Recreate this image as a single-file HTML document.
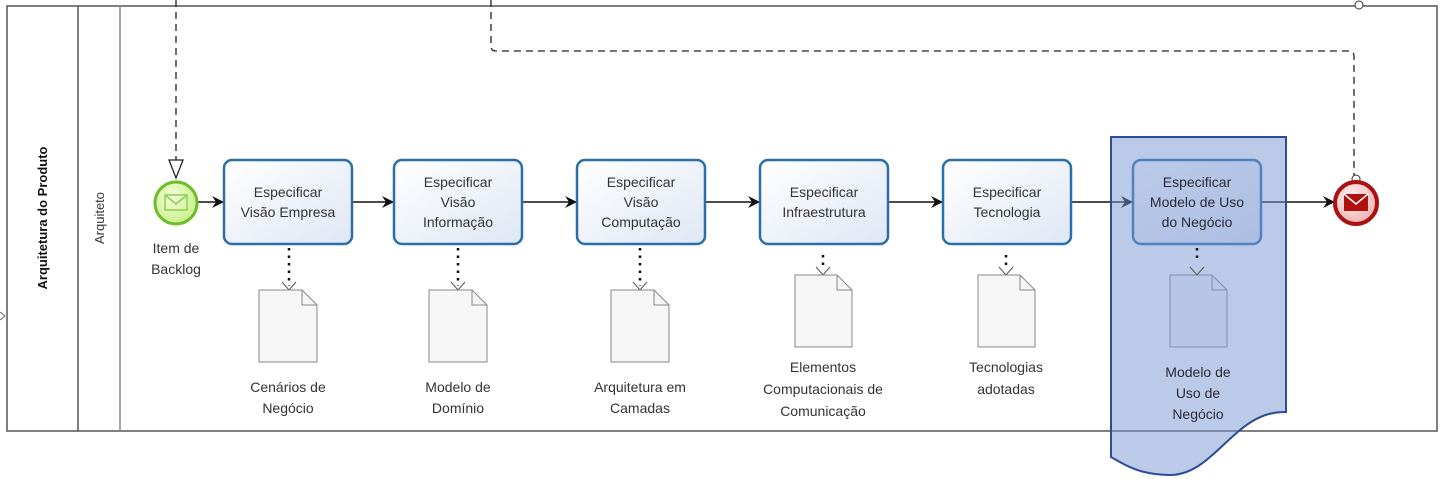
<!DOCTYPE html>
<html><head><meta charset="utf-8"><style>
html,body{margin:0;padding:0;background:#fff;}
svg{display:block;font-family:"Liberation Sans",sans-serif;}
</style></head><body>
<svg width="1446" height="488" viewBox="0 0 1446 488" xmlns="http://www.w3.org/2000/svg">
<defs>
<linearGradient id="tg" x1="0" y1="0" x2="1" y2="1"><stop offset="0" stop-color="#ffffff"/><stop offset="1" stop-color="#dfe6f4"/></linearGradient>
<radialGradient id="gg" cx="0.4" cy="0.35" r="0.7"><stop offset="0" stop-color="#f4ffd8"/><stop offset="1" stop-color="#c7ee88"/></radialGradient>
<radialGradient id="rg" cx="0.4" cy="0.35" r="0.7"><stop offset="0" stop-color="#fff0f0"/><stop offset="1" stop-color="#f0b0b0"/></radialGradient>
<marker id="ar" markerWidth="12" markerHeight="12" refX="11" refY="6" orient="auto" markerUnits="userSpaceOnUse"><path d="M0,0 L12,6 L0,12 L4,6 Z" fill="#111"/></marker>
</defs>
<rect x="7" y="6" width="1430" height="425" fill="#fff" stroke="#555" stroke-width="1.5"/>
<line x1="78" y1="6" x2="78" y2="431" stroke="#555" stroke-width="1.5"/>
<line x1="120" y1="6" x2="120" y2="431" stroke="#888" stroke-width="1.5"/>
<text transform="translate(47,218) rotate(-90)" text-anchor="middle" font-size="13" font-weight="bold" fill="#111">Arquitetura do Produto</text>
<text transform="translate(104,218) rotate(-90)" text-anchor="middle" font-size="13" fill="#333">Arquiteto</text>
<path d="M0,312 L5,316 L0,320" fill="none" stroke="#666"/>
<line x1="176" y1="0" x2="176" y2="160" stroke="#222" stroke-width="1.3" stroke-dasharray="7,5"/>
<path d="M169,160 L183,160 L176,178 Z" fill="#fff" stroke="#222" stroke-width="1.3"/>
<path d="M491,0 V46 Q491,51 496,51 H1349 Q1354,51 1354,56 V176" fill="none" stroke="#222" stroke-width="1.3" stroke-dasharray="7,5"/>
<circle cx="1359" cy="5" r="4" fill="#fff" stroke="#333"/>
<circle cx="1356" cy="179" r="4" fill="#fff" stroke="#333"/>
<g stroke="#111" stroke-width="1.5" marker-end="url(#ar)">
<line x1="198" y1="202" x2="223" y2="202"/>
<line x1="353" y1="202" x2="393" y2="202"/>
<line x1="523" y1="202" x2="576" y2="202"/>
<line x1="706" y1="202" x2="759" y2="202"/>
<line x1="889" y1="202" x2="942" y2="202"/>
<line x1="1072" y1="202" x2="1132" y2="202"/>
<line x1="1262" y1="202" x2="1334" y2="202"/>
</g>
<circle cx="176" cy="203" r="21" fill="url(#gg)" stroke="#6cbf2a" stroke-width="3"/>
<rect x="165" y="195" width="22" height="15" fill="none" stroke="#8ccf55" stroke-width="1.5"/>
<path d="M165,195 L176,204 L187,195" fill="none" stroke="#8ccf55" stroke-width="1.5"/>
<text x="176" y="253" text-anchor="middle" font-size="14" fill="#333">Item de</text>
<text x="176" y="274" text-anchor="middle" font-size="14" fill="#333">Backlog</text>
<circle cx="1356" cy="203" r="21" fill="url(#rg)" stroke="#aa1111" stroke-width="4"/>
<rect x="1344" y="194" width="24" height="17" fill="#b01010"/>
<path d="M1344,194 L1356,204 L1368,194" fill="none" stroke="#fff" stroke-width="1.5"/>
<g stroke="#2a6fa8" stroke-width="2.5" fill="url(#tg)">
<rect x="224" y="160" width="128" height="84" rx="8"/>
<rect x="394" y="160" width="128" height="84" rx="8"/>
<rect x="577" y="160" width="128" height="84" rx="8"/>
<rect x="760" y="160" width="128" height="84" rx="8"/>
<rect x="943" y="160" width="128" height="84" rx="8"/>
<rect x="1133" y="160" width="128" height="84" rx="8"/>
</g>
<g font-size="14" fill="#333" text-anchor="middle">
<text x="288" y="197">Especificar</text><text x="288" y="217">Visão Empresa</text>
<text x="458" y="187">Especificar</text><text x="458" y="207">Visão</text><text x="458" y="227">Informação</text>
<text x="641" y="187">Especificar</text><text x="641" y="207">Visão</text><text x="641" y="227">Computação</text>
<text x="824" y="197">Especificar</text><text x="824" y="217">Infraestrutura</text>
<text x="1007" y="197">Especificar</text><text x="1007" y="217">Tecnologia</text>
</g>
<g stroke="#111" stroke-width="2.5" stroke-dasharray="2.5,5">
<line x1="289" y1="248" x2="289" y2="286"/>
<line x1="458" y1="248" x2="458" y2="286"/>
<line x1="640" y1="248" x2="640" y2="286"/>
<line x1="823" y1="255" x2="823" y2="270"/>
<line x1="1006" y1="255" x2="1006" y2="270"/>
</g>
<g fill="none" stroke="#555" stroke-width="1">
<path d="M282,282 L289,290 L296,282"/><path d="M451,282 L458,290 L465,282"/><path d="M633,282 L640,290 L647,282"/>
<path d="M816,267 L823,275 L830,267"/><path d="M999,267 L1006,275 L1013,267"/>
</g>
<g fill="#f6f6f6" stroke="#888" stroke-width="1">
<path d="M259,290 H302 L317,305 V362 H259 Z"/><path d="M302,290 V305 H317" fill="none"/>
<path d="M429,290 H472 L487,305 V362 H429 Z"/><path d="M472,290 V305 H487" fill="none"/>
<path d="M611,290 H654 L669,305 V362 H611 Z"/><path d="M654,290 V305 H669" fill="none"/>
<path d="M795,275 H837 L852,290 V347 H795 Z"/><path d="M837,275 V290 H852" fill="none"/>
<path d="M978,275 H1020 L1035,290 V347 H978 Z"/><path d="M1020,275 V290 H1035" fill="none"/>
<path d="M1170,275 H1212 L1227,290 V347 H1170 Z"/><path d="M1212,275 V290 H1227" fill="none"/>
</g>
<g font-size="14" fill="#333" text-anchor="middle">
<text x="288" y="392">Cenários de</text><text x="288" y="413">Negócio</text>
<text x="458" y="392">Modelo de</text><text x="458" y="413">Domínio</text>
<text x="640" y="392">Arquitetura em</text><text x="640" y="413">Camadas</text>
<text x="823" y="372">Elementos</text><text x="823" y="394">Computacionais de</text><text x="823" y="416">Comunicação</text>
<text x="1006" y="372">Tecnologias</text><text x="1006" y="394">adotadas</text>
</g>
<path d="M1111,137 H1286 V412 C1235,410 1215,475 1170,475 C1140,475 1125,465 1111,457 Z" fill="rgba(120,150,210,0.5)" stroke="#2b4d94" stroke-width="2"/>
<line x1="1197" y1="248" x2="1197" y2="262" stroke="#111" stroke-width="2.5" stroke-dasharray="2.5,5"/>
<path d="M1190,267 L1197,275 L1204,267" fill="none" stroke="#555"/>
<g font-size="14" fill="#2a2a3a" text-anchor="middle">
<text x="1197" y="187">Especificar</text><text x="1197" y="207">Modelo de  Uso</text><text x="1197" y="227">do Negócio</text>
<text x="1198" y="377">Modelo de</text><text x="1198" y="398">Uso de</text><text x="1198" y="419">Negócio</text>
</g>
</svg>
</body></html>
